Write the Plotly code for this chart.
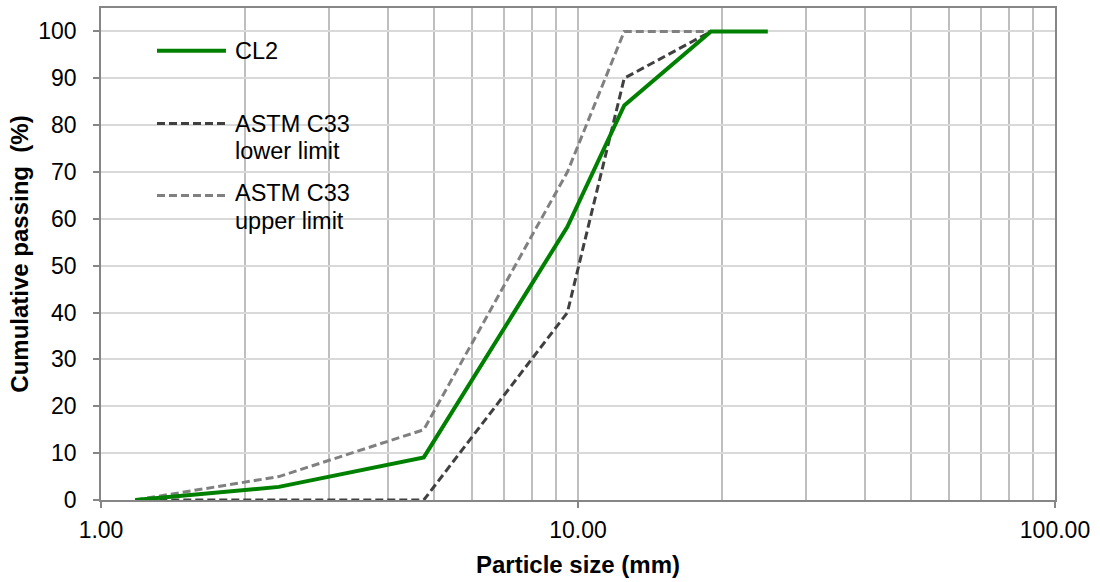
import plotly.graph_objects as go

sieve_mm = [1.18, 2.36, 4.75, 9.5, 12.5, 19.0, 25.0]
cl2 = [0, 2.8, 9.1, 58.3, 84.2, 100, 100]
astm_lower = [0, 0, 0, 40, 90, 100, 100]
astm_upper = [0, 5, 15, 70, 100, 100, 100]

x_ticks = [1, 10, 100]
x_tick_text = ["1.00", "10.00", "100.00"]
x_minor = [2, 3, 4, 5, 6, 7, 8, 9, 20, 30, 40, 50, 60, 70, 80, 90]
y_ticks = list(range(0, 101, 10))

FONT = "Liberation Sans, Arial, sans-serif"

fig = go.Figure()
fig.add_trace(go.Scatter(x=sieve_mm, y=astm_upper, mode="lines", name="ASTM C33<br>upper limit",
                         line=dict(color="#808080", width=3, dash="8px,4px")))
fig.add_trace(go.Scatter(x=sieve_mm, y=astm_lower, mode="lines", name="ASTM C33<br>lower limit",
                         line=dict(color="#404040", width=3, dash="8px,4px")))
fig.add_trace(go.Scatter(x=sieve_mm, y=cl2, mode="lines", name="CL2",
                         line=dict(color="#008000", width=4)))

# legend drawn manually (paper coords)
legend_items = [
    ("CL2", None, "#008000", "solid", 4, 0.913, 0.913, None),
    ("ASTM C33", "lower limit", "#404040", "8px,4px", 3, 0.765, 0.765, 0.709),
    ("ASTM C33", "upper limit", "#808080", "8px,4px", 3, 0.619, 0.623, 0.567),
]
x0, x1, xt = 0.0587, 0.1310, 0.1384
for t1, t2, col, dash, w, yl, yt, y2 in legend_items:
    fig.add_shape(type="line", xref="paper", yref="paper", x0=x0, x1=x1, y0=yl, y1=yl,
                  line=dict(color=col, width=w, dash=dash))
    fig.add_annotation(xref="paper", yref="paper", x=xt, y=yt, text=t1, showarrow=False,
                       xanchor="left", yanchor="middle", font=dict(size=23.5, color="#000000", family=FONT))
    if t2:
        fig.add_annotation(xref="paper", yref="paper", x=xt, y=y2, text=t2, showarrow=False,
                           xanchor="left", yanchor="middle", font=dict(size=23.5, color="#000000", family=FONT))

fig.update_layout(
    width=1100, height=582,
    margin=dict(l=101, r=45, t=6, b=82),
    paper_bgcolor="white", plot_bgcolor="white",
    showlegend=False,
    font=dict(family=FONT, size=22, color="#000000"),
)
fig.update_xaxes(
    type="log", range=[0, 2],
    tickmode="array", tickvals=x_ticks, ticktext=x_tick_text,
    ticks="outside", ticklen=6, tickcolor="#868686", tickwidth=1.5,
    showline=True, linecolor="#868686", linewidth=1.5, mirror=True,
    showgrid=True, gridcolor="#bfbfbf", gridwidth=1.5,
    minor=dict(tickmode="array", tickvals=x_minor, showgrid=True, gridcolor="#bfbfbf", gridwidth=1.5, ticks=""),
    ticklabelstandoff=3,
    tickfont=dict(size=23, family=FONT),
    title=dict(text="<b>Particle size (mm)</b>", font=dict(size=24, family=FONT), standoff=14),
    zeroline=False,
)
fig.update_yaxes(
    range=[0, 105],
    tickmode="array", tickvals=y_ticks,
    ticks="outside", ticklen=6, tickcolor="#868686", tickwidth=1.5,
    showline=True, linecolor="#868686", linewidth=1.5, mirror=True,
    showgrid=True, gridcolor="#d9d9d9", gridwidth=1.5,
    ticklabelstandoff=12,
    tickfont=dict(size=23, family=FONT),
    title=dict(text="<b>Cumulative passing\u00a0 (%)</b>", font=dict(size=24, family=FONT), standoff=3),
    zeroline=False,
)

fig.write_html("out.html", config={"displayModeBar": False},
               post_script="document.body.style.margin='0';")
